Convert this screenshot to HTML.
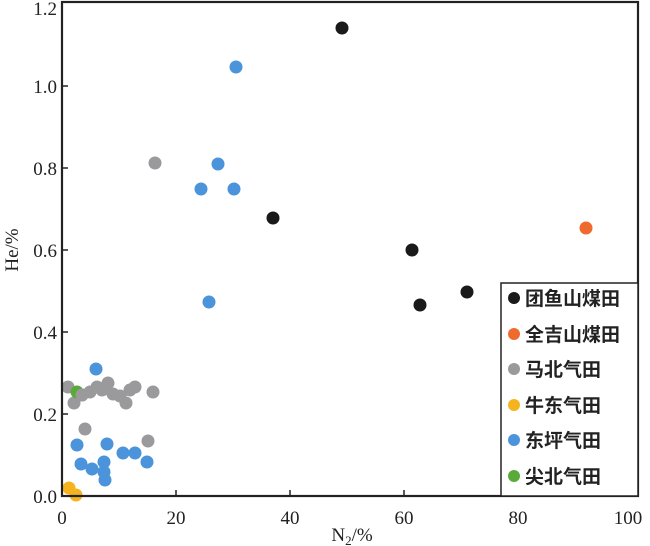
<!DOCTYPE html><html><head><style>body{margin:0;background:#fff}svg{display:block}</style></head><body>
<svg width="650" height="546" xmlns="http://www.w3.org/2000/svg" font-family="Liberation Serif, serif">
<g fill="#9a9a9c">
<circle cx="155" cy="163" r="6.5"/><circle cx="68" cy="387" r="6.5"/><circle cx="74" cy="403" r="6.5"/><circle cx="82" cy="395" r="6.5"/><circle cx="90" cy="392" r="6.5"/><circle cx="97" cy="387" r="6.5"/><circle cx="102" cy="390" r="6.5"/><circle cx="108" cy="383" r="6.5"/><circle cx="113" cy="394" r="6.5"/><circle cx="120" cy="396" r="6.5"/><circle cx="126" cy="403" r="6.5"/><circle cx="130" cy="390" r="6.5"/><circle cx="135" cy="387" r="6.5"/><circle cx="153" cy="392" r="6.5"/><circle cx="85" cy="429" r="6.5"/><circle cx="148" cy="441" r="6.5"/></g>
<circle cx="77" cy="392" r="6.5" fill="#5aaa3a"/>
<circle cx="82" cy="395" r="6.5" fill="#9a9a9c"/>
<g fill="#4b94dc">
<circle cx="236" cy="67" r="6.5"/><circle cx="218" cy="164" r="6.5"/><circle cx="201" cy="189" r="6.5"/><circle cx="234" cy="189" r="6.5"/><circle cx="209" cy="302" r="6.5"/><circle cx="96" cy="369" r="6.5"/><circle cx="77" cy="445" r="6.5"/><circle cx="107" cy="444" r="6.5"/><circle cx="123" cy="453" r="6.5"/><circle cx="135" cy="453" r="6.5"/><circle cx="147" cy="462" r="6.5"/><circle cx="81" cy="464" r="6.5"/><circle cx="92" cy="469" r="6.5"/><circle cx="104" cy="462" r="6.5"/><circle cx="104" cy="472" r="6.5"/><circle cx="105" cy="480" r="6.5"/></g>
<g fill="#f5b41e"><circle cx="69" cy="488" r="6.5"/><circle cx="76" cy="495" r="6.5"/></g>
<g fill="#1a1a1a"><circle cx="342" cy="28" r="6.5"/><circle cx="273" cy="218" r="6.5"/><circle cx="412" cy="250" r="6.5"/><circle cx="420" cy="305" r="6.5"/><circle cx="467" cy="292" r="6.5"/></g>
<circle cx="586" cy="228" r="6.5" fill="#ee6a2f"/>
<rect x="62" y="2" width="576" height="494" fill="none" stroke="#222" stroke-width="2.2"/>
<g stroke="#222" stroke-width="1.5">
<line x1="62" y1="414" x2="68" y2="414"/><line x1="62" y1="332" x2="68" y2="332"/><line x1="62" y1="250" x2="68" y2="250"/><line x1="62" y1="168" x2="68" y2="168"/><line x1="62" y1="86" x2="68" y2="86"/>
<line x1="176" y1="496" x2="176" y2="490"/><line x1="290" y1="496" x2="290" y2="490"/><line x1="404" y1="496" x2="404" y2="490"/><line x1="518" y1="496" x2="518" y2="490"/><line x1="632" y1="496" x2="632" y2="490"/></g>
<g font-size="19" fill="#222" text-anchor="end">
<text x="57" y="503">0.0</text><text x="57" y="421">0.2</text><text x="57" y="339">0.4</text><text x="57" y="257">0.6</text><text x="57" y="175">0.8</text><text x="57" y="93">1.0</text><text x="57" y="15">1.2</text></g>
<g font-size="19" fill="#222" text-anchor="middle">
<text x="62" y="524">0</text><text x="176" y="524">20</text><text x="290" y="524">40</text><text x="404" y="524">60</text><text x="518" y="524">80</text><text x="628" y="524">100</text>
<text x="352" y="541">N<tspan font-size="13" dy="4">2</tspan><tspan dy="-4">/%</tspan></text>
<text transform="translate(18,250) rotate(-90)">He/%</text></g>
<rect x="501" y="283" width="137" height="213" fill="#fff" stroke="#222" stroke-width="1.5"/>
<g font-family="Liberation Sans, Noto Sans CJK SC, sans-serif" font-size="19" font-weight="bold" fill="#222">
<circle cx="514" cy="298" r="6" fill="#1a1a1a"/><text x="525" y="305">团鱼山煤田</text>
<circle cx="514" cy="334" r="6" fill="#ee6a2f"/><text x="525" y="341">全吉山煤田</text>
<circle cx="514" cy="369" r="6" fill="#9a9a9c"/><text x="525" y="376">马北气田</text>
<circle cx="514" cy="405" r="6" fill="#f5b41e"/><text x="525" y="412">牛东气田</text>
<circle cx="514" cy="440" r="6" fill="#4b94dc"/><text x="525" y="447">东坪气田</text>
<circle cx="514" cy="476" r="6" fill="#5aaa3a"/><text x="525" y="483">尖北气田</text></g>
</svg></body></html>
